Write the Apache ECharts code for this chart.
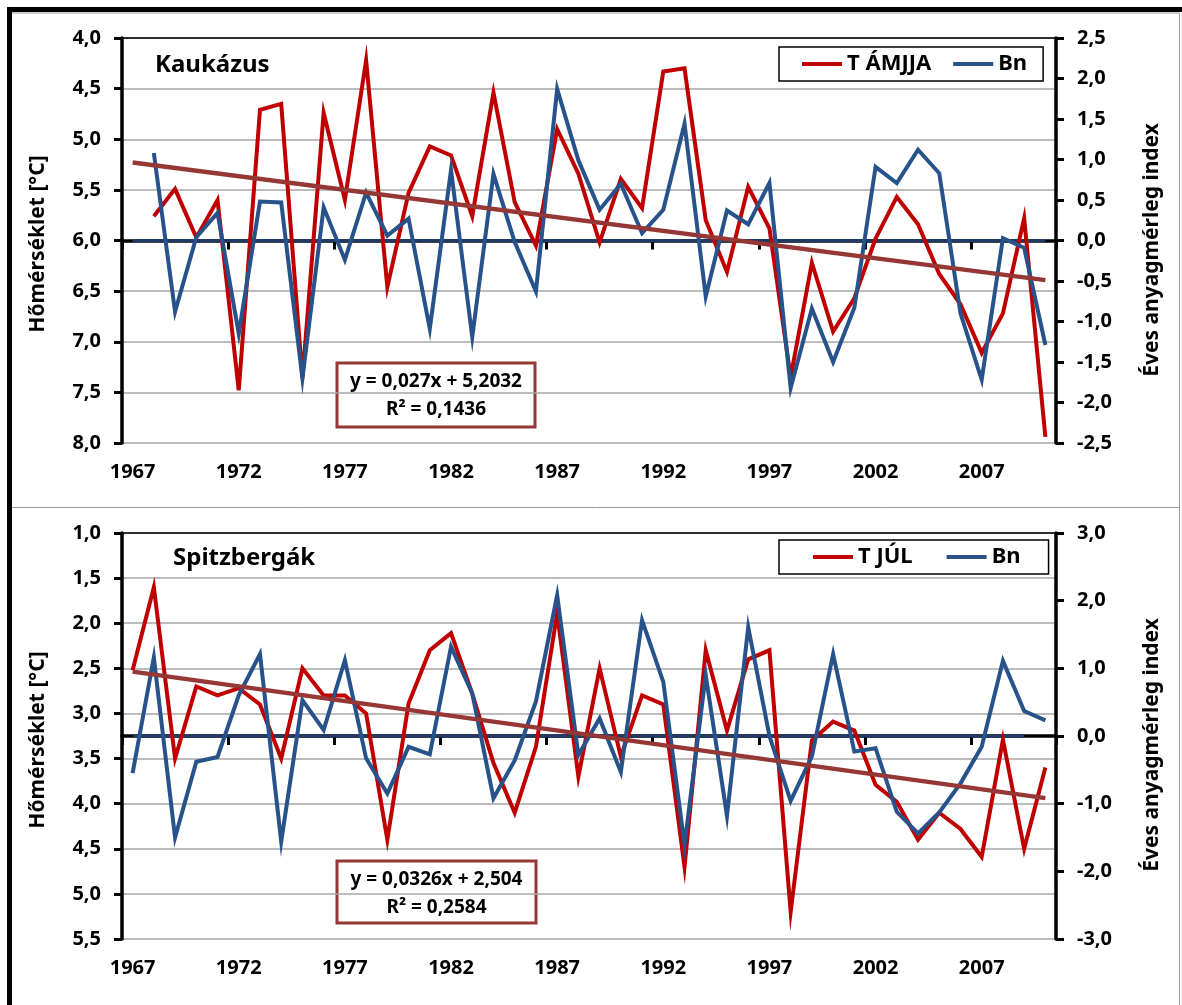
<!DOCTYPE html>
<html>
<head>
<meta charset="utf-8">
<script src="https://cdn.jsdelivr.net/npm/echarts@6/dist/echarts.min.js"></script>
<style>
html,body{margin:0;padding:0;background:#fff;}
#c{width:1182px;height:1005px;}
</style>
</head>
<body>
<div id="c"></div>
<script>
// ---------- DATA ----------
const years = ['1967','1968','1969','1970','1971','1972','1973','1974','1975','1976','1977','1978','1979','1980','1981','1982','1983','1984','1985','1986','1987','1988','1989','1990','1991','1992','1993','1994','1995','1996','1997','1998','1999','2000','2001','2002','2003','2004','2005','2006','2007','2008','2009','2010'];

// Top panel: Kaukázus
const tAmjja = [null,5.76,5.49,5.97,5.60,7.48,4.71,4.65,7.36,4.74,5.60,4.22,6.46,5.53,5.07,5.16,5.76,4.54,5.62,6.05,4.90,5.34,6.02,5.39,5.68,4.33,4.30,5.80,6.31,5.47,5.88,7.35,6.22,6.90,6.57,5.98,5.57,5.84,6.33,6.63,7.11,6.72,5.78,7.94];
const bnTop = [null,1.08,-0.88,0.04,0.34,-1.15,0.48,0.47,-1.70,0.41,-0.24,0.59,0.06,0.27,-1.09,0.87,-1.19,0.82,-0.02,-0.63,1.87,0.99,0.38,0.70,0.09,0.38,1.44,-0.69,0.37,0.20,0.71,-1.82,-0.84,-1.50,-0.83,0.91,0.71,1.12,0.83,-0.90,-1.72,0.03,-0.09,-1.29];
const zeroTop = [0,0,0,0,0,0,0,0,0,0,0,0,0,0,0,0,0,0,0,0,0,0,0,0,0,0,0,0,0,0,0,0,0,0,0,0,0,0,0,0,0,0,0,0];
const trendTopSlope = 0.027, trendTopIntercept = 5.2032;
const eqTop = ['y = 0,027x + 5,2032', 'R² = 0,1436'];

// Bottom panel: Spitzbergák
const tJul = [2.52,1.60,3.50,2.70,2.80,2.72,2.90,3.50,2.50,2.80,2.80,3.00,4.40,2.89,2.30,2.11,2.78,3.55,4.10,3.37,1.89,3.70,2.50,3.48,2.80,2.90,4.70,2.30,3.19,2.40,2.30,5.20,3.30,3.09,3.19,3.79,3.98,4.40,4.10,4.28,4.59,3.29,4.50,3.60];
const bnBottom = [-0.55,1.16,-1.50,-0.38,-0.31,0.60,1.21,-1.56,0.53,0.09,1.12,-0.33,-0.85,-0.16,-0.27,1.32,0.63,-0.92,-0.36,0.51,2.08,-0.28,0.26,-0.53,1.71,0.80,-1.61,0.90,-1.18,1.61,0.00,-0.96,-0.30,1.21,-0.23,-0.18,-1.12,-1.44,-1.13,-0.70,-0.16,1.11,0.37,0.23];
const zeroBottom = [0,0,0,0,0,0,0,0,0,0,0,0,0,0,0,0,0,0,0,0,0,0,0,0,0,0,0,0,0,0,0,0,0,0,0,0,0,0,0,0,0,0,0,null];
const trendBotSlope = 0.0326, trendBotIntercept = 2.504;
const eqBot = ['y = 0,0326x + 2,504', 'R² = 0,2584'];

const panelTitles = ['Kaukázus', 'Spitzbergák'];
const leftAxisName = 'Hőmérséklet [°C]';
const rightAxisName = 'Éves anyagmérleg index';

// ---------- BUILD ----------
function trendSeries(slope, intercept) {
  const n = years.length;
  return years.map((y, i) => (i === 0 || i === n - 1) ? +(slope * (i + 1) + intercept).toFixed(4) : null);
}
const FONT = '"Noto Sans"';
const fmt = v => v.toFixed(1).replace('.', ',');
const RED = '#C00000', BLUE = '#27528A', ZERO = '#1F3A66', TREND = '#953735';

function xAxes(gi) {
  return [{
    type: 'category', gridIndex: gi, data: years, boundaryGap: true, position: 'bottom',
    axisLine: { show: true, lineStyle: { color: '#000', width: 3.5 } },
    axisTick: { show: true, interval: 4, length: 9, lineStyle: { color: '#000', width: 3 } },
    axisLabel: { interval: 4, margin: 19, color: '#000', fontFamily: 'Noto Sans', fontWeight: 'bold', fontSize: 20 },
    splitLine: { show: false }
  }, {
    type: 'category', gridIndex: gi, data: years, boundaryGap: true, position: 'top',
    axisLine: { show: true, lineStyle: { color: '#000', width: 1.5 } },
    axisTick: { show: false }, axisLabel: { show: false }, splitLine: { show: false }
  }];
}
function yAxes(gi, lmin, lmax, rmin, rmax, rint) {
  const common = {
    type: 'value',
    axisLine: { show: true, lineStyle: { color: '#000', width: 3.5 } },
    axisTick: { show: true, length: 8, lineStyle: { color: '#000', width: 3 } },
  };
  return [Object.assign({}, common, {
    gridIndex: gi, position: 'left', min: lmin, max: lmax, interval: 0.5, inverse: true,
    axisLabel: { formatter: fmt, margin: 21, color: '#000', fontFamily: 'Noto Sans', fontWeight: 'bold', fontSize: 20 },
    splitLine: { show: true, lineStyle: { color: '#a6a6a6', width: 1.5 } }
  }), Object.assign({}, common, {
    gridIndex: gi, position: 'right', min: rmin, max: rmax, interval: rint,
    axisLabel: { formatter: fmt, margin: 21, color: '#000', fontFamily: 'Noto Sans', fontWeight: 'bold', fontSize: 20 },
    splitLine: { show: false }
  })];
}
function line(name, xi, yi, data, color, width, z, extra) {
  return Object.assign({
    name, type: 'line', xAxisIndex: xi, yAxisIndex: yi, data, symbol: 'none',
    lineStyle: { color, width, join: 'miter' }, itemStyle: { color }, z, animation: false, silent: true
  }, extra || {});
}
function legend(top, names, padL, padR, gap) {
  return {
    left: 779, top, orient: 'horizontal',
    data: names, icon: 'rect', itemWidth: 40, itemHeight: 4, itemGap: gap,
    padding: [6, padR, 6, padL], borderColor: '#000', borderWidth: 1.5,
    textStyle: { color: '#000', fontFamily: 'Noto Sans', fontWeight: 'bold', fontSize: 22 },
    selectedMode: false
  };
}
function eqBox(x, y, w, h, lines) {
  return {
    type: 'group', x, y, children: [
      { type: 'rect', shape: { x: 0, y: 0, width: w, height: h }, style: { fill: '#fff', stroke: TREND, lineWidth: 3 } },
      { type: 'text', x: w / 2, y: 19, style: { text: lines[0], textAlign: 'center', textVerticalAlign: 'middle', font: 'bold 19px ' + FONT, fill: '#000' } },
      { type: 'text', x: w / 2, y: 47, style: { text: lines[1], textAlign: 'center', textVerticalAlign: 'middle', font: 'bold 19px ' + FONT, fill: '#000' } }
    ]
  };
}
function vText(x, y, text) {
  return { type: 'text', x, y, rotation: Math.PI / 2, style: { text, textAlign: 'center', textVerticalAlign: 'middle', font: 'bold 21px ' + FONT, fill: '#000' } };
}

const chart = echarts.init(document.getElementById('c'), null, { renderer: 'canvas' });
chart.setOption({
  backgroundColor: '#fff',
  animation: false,
  grid: [
    { left: 122, width: 934, top: 38, height: 405 },
    { left: 122, width: 934, top: 533, height: 406 }
  ],
  xAxis: [...xAxes(0), ...xAxes(1)],
  yAxis: [...yAxes(0, 4, 8, -2.5, 2.5, 0.5), ...yAxes(1, 1, 5.5, -3, 3, 1)],
  legend: [legend(47, ['T ÁMJJA', 'Bn'], 23, 16, 22), legend(540, ['T JÚL', 'Bn'], 34, 28, 34)],
  series: [
    line('T ÁMJJA', 0, 0, tAmjja, RED, 4, 3),
    line('zeroTop', 0, 1, zeroTop, ZERO, 3, 2),
    line('Bn', 0, 1, bnTop, BLUE, 4, 4),
    line('trendTop', 0, 0, trendSeries(trendTopSlope, trendTopIntercept), TREND, 4.5, 5, { connectNulls: true }),
    line('T JÚL', 2, 2, tJul, RED, 4, 3),
    line('zeroBottom', 2, 3, zeroBottom, ZERO, 3, 2),
    line('Bn', 2, 3, bnBottom, BLUE, 4, 4),
    line('trendBottom', 2, 2, trendSeries(trendBotSlope, trendBotIntercept), TREND, 4.5, 5, { connectNulls: true })
  ],
  graphic: [
    // frame
    { type: 'line', shape: { x1: 7, y1: 9.5, x2: 1182, y2: 9.5 }, style: { stroke: '#000', lineWidth: 5 } },
    { type: 'line', shape: { x1: 9.5, y1: 7, x2: 9.5, y2: 1005 }, style: { stroke: '#000', lineWidth: 5 } },
    { type: 'line', shape: { x1: 12, y1: 13, x2: 1179, y2: 13 }, style: { stroke: '#9a9a9a', lineWidth: 1 } },
    { type: 'line', shape: { x1: 1179.5, y1: 13, x2: 1179.5, y2: 1005 }, style: { stroke: '#9a9a9a', lineWidth: 1 } },
    { type: 'line', shape: { x1: 12, y1: 507.5, x2: 1179, y2: 507.5 }, style: { stroke: '#9a9a9a', lineWidth: 1 } },
    // panel titles
    { type: 'text', x: 155, y: 65, style: { text: panelTitles[0], textVerticalAlign: 'middle', font: 'bold 24px ' + FONT, fill: '#000' } },
    { type: 'text', x: 173, y: 558, style: { text: panelTitles[1], textVerticalAlign: 'middle', font: 'bold 24px ' + FONT, fill: '#000' } },
    // axis titles
    vText(38, 244, leftAxisName),
    vText(1152, 250, rightAxisName),
    vText(38, 740, leftAxisName),
    vText(1152, 745, rightAxisName),
    // equation boxes
    eqBox(337, 363, 198, 64, eqTop),
    eqBox(337, 861, 199, 62, eqBot)
  ]
});
</script>
</body>
</html>
